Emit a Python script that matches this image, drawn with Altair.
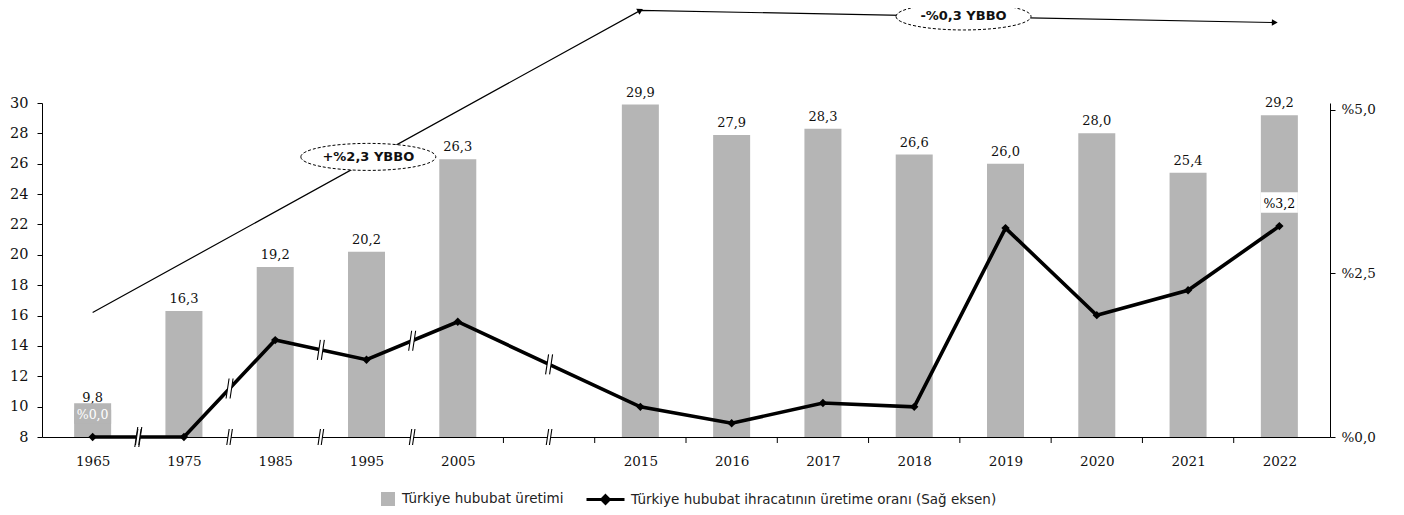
import altair as alt
import pandas as pd

# ---------------- data ----------------
years = ["1965", "1975", "1985", "1995", "2005", "2015", "2016", "2017",
         "2018", "2019", "2020", "2021", "2022"]
positions = [0, 1, 2, 3, 4, 6, 7, 8, 9, 10, 11, 12, 13]
production = [9.8, 16.3, 19.2, 20.2, 26.3, 29.9, 27.9, 28.3, 26.6, 26.0, 28.0, 25.4, 29.2]
export_ratio = [0.0, 0.0, 1.48, 1.18, 1.76, 0.46, 0.21, 0.52, 0.46, 3.19, 1.86, 2.24, 3.22]

ratio_label_rows = [0, 12]              # rows that carry a % label
ratio_label_text = ["%0,0", "%3,2"]
ratio_label_fg = ["white", "black"]
ratio_label_bg = ["#b5b5b5", "white"]

break_pairs = [(0, 1), (1, 2), (2, 3), (3, 4), (4, 5)]   # line segments with a break sign
axis_break_pos = [0.5, 1.5, 2.5, 3.5, 5.0]
axis_tick_pos = [4.5, 5.5, 6.5, 7.5, 8.5, 9.5, 10.5, 11.5, 12.5]

trend_pos = [0, 6, 12.95]
trend_val = [16.2, 36.1, 35.3]
arrow_pos = [6, 12.95]
arrow_val = [36.1, 35.3]
arrow_angle = [331.3, 1.1]
ellipse_pos = [3.02, 9.54]
ellipse_val = [26.45, 35.7]
ellipse_text = ["+%2,3 YBBO", "-%0,3 YBBO"]

legend_bar = "Türkiye hububat üretimi"
legend_line = "Türkiye hububat ihracatının üretime oranı (Sağ eksen)"

# ---------------- tables ----------------
df = pd.DataFrame({"year": years, "pos": positions, "prod": production,
                   "ratio": export_ratio})
df["s1"] = legend_bar
df["s2"] = legend_line

lab = pd.DataFrame({
    "pos": [positions[i] for i in ratio_label_rows],
    "ratio": [export_ratio[i] for i in ratio_label_rows],
    "txt": ratio_label_text, "fg": ratio_label_fg, "bg": ratio_label_bg})

brk = pd.DataFrame({
    "pos": [(positions[a] + positions[b]) / 2 for a, b in break_pairs],
    "ratio": [(export_ratio[a] + export_ratio[b]) / 2 for a, b in break_pairs]})
axbrk = pd.DataFrame({"pos": axis_break_pos, "ratio": [0.0] * len(axis_break_pos)})
ticks = pd.DataFrame({"pos": axis_tick_pos})
trend = pd.DataFrame({"pos": trend_pos, "val": trend_val, "o": list(range(len(trend_pos)))})
arrows = pd.DataFrame({"pos": arrow_pos, "val": arrow_val, "ang": arrow_angle})
ells = pd.DataFrame({"pos": ellipse_pos, "val": ellipse_val, "txt": ellipse_text})

W, H = 1288, 334
SERIF = "DejaVu Serif"
SANS = "DejaVu Sans"
BAR = "#b5b5b5"

X_DOMAIN = [-0.5, 13.5]
YL_DOMAIN = [8, 30]
YR_DOMAIN = [0, 5.1]


def xs():
    return alt.X("pos:Q", scale=alt.Scale(domain=X_DOMAIN, nice=False, zero=False), title=None)


def yl(field, axis=None):
    sc = alt.Scale(domain=YL_DOMAIN, nice=False, zero=False)
    if axis is None:
        return alt.Y(field, scale=sc, title=None, axis=None)
    return alt.Y(field, scale=sc, title=None, axis=axis)


def yr(field, axis=None):
    sc = alt.Scale(domain=YR_DOMAIN, nice=False, zero=False)
    if axis is None:
        return alt.Y(field, scale=sc, title=None, axis=None)
    return alt.Y(field, scale=sc, title=None, axis=axis)


label_expr = "[" + ",".join("'%s'" % y for y in
                            ["1965", "1975", "1985", "1995", "2005", "", "2015", "2016",
                             "2017", "2018", "2019", "2020", "2021", "2022"]) + "][datum.value]"

# ---------------- bars (left axis) ----------------
bars = alt.Chart(df).mark_bar(size=37).encode(
    x=alt.X("pos:Q", scale=alt.Scale(domain=X_DOMAIN, nice=False, zero=False), title=None,
            axis=alt.Axis(values=positions, labelExpr=label_expr, ticks=False, grid=False,
                          domainColor="black", domainWidth=1, labelFont=SERIF,
                          labelFontSize=13.5, labelColor="#111", labelPadding=17)),
    y=yl("prod:Q", alt.Axis(values=list(range(8, 31, 2)), grid=False, domainColor="black",
                           tickColor="black", tickSize=5, labelFont=SERIF, labelFontSize=14.5,
                           labelColor="#111", labelPadding=9, orient="left")),
    y2=alt.datum(8),
    color=alt.Color("s1:N", scale=alt.Scale(domain=[legend_bar], range=[BAR]),
                    legend=alt.Legend(title=None, orient="none", legendX=338, legendY=388,
                                      symbolType="square", symbolSize=196,
                                      labelFont=SANS, labelFontSize=13.5, labelColor="#222",
                                      labelOffset=6, labelLimit=600)),
)

bar_labels = alt.Chart(df).transform_calculate(
    t="replace(format(datum.prod, '.1f'), '.', ',')"
).mark_text(font=SERIF, fontSize=13, baseline="bottom", dy=-5, color="#111").encode(
    x=xs(), y=yl("prod:Q"), text="t:N")

trend_line = alt.Chart(trend).mark_line(color="black", strokeWidth=1.2).encode(
    x=xs(), y=yl("val:Q"), order="o:Q")

arrow_heads = alt.Chart(arrows).mark_point(shape="triangle-right", filled=True,
                                           color="black", size=45, opacity=1).encode(
    x=xs(), y=yl("val:Q"), angle=alt.Angle("ang:Q", scale=None))

ELLIPSE = "M -1 0 A 1 0.2 0 1 1 1 0 A 1 0.2 0 1 1 -1 0 Z"
ellipse = alt.Chart(ells).mark_point(shape=ELLIPSE, size=18225, filled=True, fill="white",
                                     stroke="black", strokeWidth=1, strokeDash=[3, 2],
                                     opacity=1).encode(
    x=xs(), y=yl("val:Q"))
ellipse_txt = alt.Chart(ells).mark_text(font=SANS, fontSize=13, fontWeight="bold",
                                        color="#111").encode(
    x=xs(), y=yl("val:Q"), text="txt:N")

# ---------------- line (right axis) ----------------
LEG_LINE = "M -1 0 L 1 0 M 0 -0.2 L 0.2 0 L 0 0.2 L -0.2 0 Z"
line = alt.Chart(df).mark_line(strokeWidth=3.6).encode(
    x=xs(),
    y=yr("ratio:Q", alt.Axis(orient="right", values=[0, 2.5, 5], grid=False,
                             labelExpr="'%' + replace(format(datum.value, '.1f'), '.', ',')",
                             domainColor="black", tickColor="black", tickSize=5,
                             labelFont=SERIF, labelFontSize=13.5, labelColor="#111",
                             labelPadding=6)),
    color=alt.Color("s2:N", scale=alt.Scale(domain=[legend_line], range=["black"]),
                    legend=alt.Legend(title=None, orient="none", legendX=543, legendY=376,
                                      symbolType=LEG_LINE, symbolSize=1444,
                                      symbolStrokeWidth=3, symbolFillColor="black",
                                      labelFont=SANS, labelFontSize=13.5, labelColor="#222",
                                      labelOffset=5, labelLimit=700)),
)

points = alt.Chart(df).mark_point(shape="diamond", filled=True, color="black",
                                  size=70, opacity=1).encode(
    x=xs(), y=yr("ratio:Q"))

xticks = alt.Chart(ticks).mark_rule(color="black", strokeWidth=1).encode(
    x=xs(), y=alt.value(H), y2=alt.value(H + 6))

BRK_FILL = "M -0.35 1 L -0.05 -1 L 0.35 -1 L 0.05 1 Z"
BRK_LINES = "M -0.35 1 L -0.05 -1 M 0.05 1 L 0.35 -1"


def breaks(data, size):
    fill = alt.Chart(data).mark_point(shape=BRK_FILL, size=size, filled=True, fill="white",
                                      strokeWidth=0, opacity=1).encode(
        x=xs(), y=yr("ratio:Q"))
    strokes = alt.Chart(data).mark_point(shape=BRK_LINES, size=size, filled=False,
                                         stroke="black", strokeWidth=1.1, opacity=1).encode(
        x=xs(), y=yr("ratio:Q"))
    return [fill, strokes]


LABEL_BOX = "M -1 -1.83 L 1 -1.83 L 1 -0.72 L -1 -0.72 Z"
label_box = alt.Chart(lab).mark_point(shape=LABEL_BOX, size=1369, filled=True,
                                      strokeWidth=0, opacity=1).encode(
    x=xs(), y=yr("ratio:Q"), fill=alt.Fill("bg:N", scale=None))
label_txt = alt.Chart(lab).mark_text(font=SERIF, fontSize=12.5, dy=-22).encode(
    x=xs(), y=yr("ratio:Q"), text="txt:N", color=alt.Color("fg:N", scale=None))

chart = alt.layer(
    bars, bar_labels, trend_line, arrow_heads, ellipse, ellipse_txt,
    line, *breaks(brk, 400), points, xticks, *breaks(axbrk, 256), label_box, label_txt
).resolve_scale(y="independent", color="independent").properties(
    width=W, height=H,
    background="white",
    autosize=alt.AutoSizeParams(type="none"),
    padding={"left": 34, "top": 95, "right": 65, "bottom": 75},
).configure_view(stroke=None)

chart.save("out.html", embed_options={"renderer": "svg", "actions": False})
